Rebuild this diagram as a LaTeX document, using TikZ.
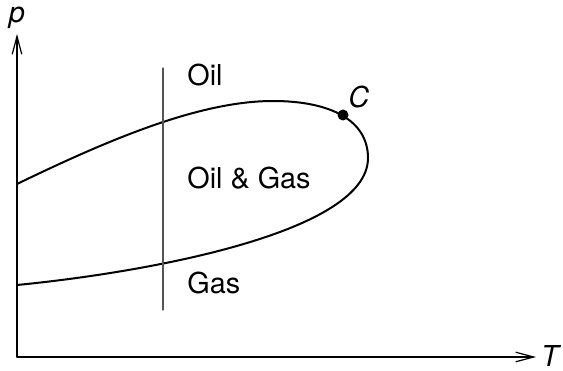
\documentclass[tikz,border=0pt]{standalone}
\usepackage{fontspec}
\setmainfont{TeX Gyre Heros}
\usetikzlibrary{arrows.meta}

\definecolor{curve}{HTML}{000000}
\definecolor{divider}{HTML}{555555}

\begin{document}
\begin{tikzpicture}[
  x=0.5pt, y=0.5pt,
  line cap=round, line join=round,
  every node/.style={font=\fontsize{14.4}{17}\selectfont, inner sep=0pt},
  envelope/.style={draw=curve, line width=1pt},
  divider/.style={draw=divider, line width=0.55pt},
  axis/.style={line width=0.6pt, draw=black,
    -{Straight Barb[length=9pt, width=4.8pt, line width=0.6pt]}},
  region/.style={anchor=west},
  crit/.style={circle, fill=black, minimum size=5.5pt, inner sep=0pt},
]
\useasboundingbox (0,0) rectangle (563,370);
% axes
\coordinate (O) at (17,13);
\coordinate (ptop) at (17,336);
\coordinate (tend) at (536,13);
\draw[axis] (O) -- (ptop);
\draw[axis] (O) -- (tend);
\node (plab) at (17,352) {\itshape p};
\node (tlab) at (550,14) {\itshape T};
% phase envelope
\draw[envelope] (17,186) .. controls (110,231) and (200,269) .. (273,269)
  .. controls (330,269) and (368,250) .. (368,212)
  .. controls (368,138) and (150,98) .. (17,85);
\node[crit] (C) at (343,255) {};
\node[anchor=south west] (clab) at (348,262) {\itshape C};
% isotherm
\draw[divider] (163,60) -- (163,302);
% regions
\node[region] (oil) at (187,295) {Oil};
\node[region] (mix) at (187,192) {Oil \& Gas};
\node[region] (gas) at (187,87) {Gas};
\end{tikzpicture}
\end{document}
